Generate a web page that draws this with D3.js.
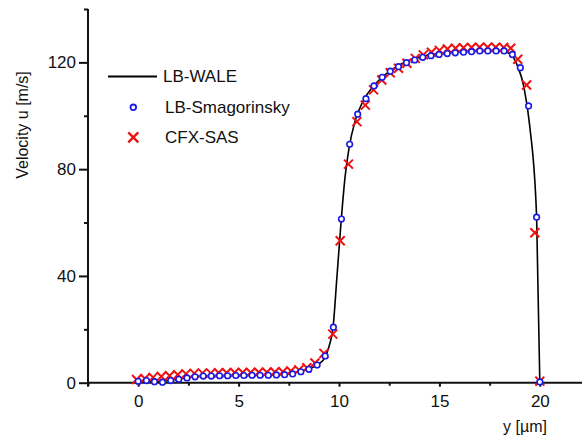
<!DOCTYPE html>
<html>
<head>
<meta charset="utf-8">
<script src="https://cdn.jsdelivr.net/npm/d3@7"></script>
<style>
    body { margin: 0; background: #fff; }
    svg text { font-family: Arial, "Liberation Sans", Helvetica, sans-serif; fill: #111; }
</style>
</head>
<body>
<svg id="chart"></svg>
<script>
// LB-WALE (solid line)
const waleY = [0, 0.5, 1, 1.5, 2, 3, 4, 5, 6, 7, 7.5, 8, 8.5, 9, 9.3, 9.5, 9.7, 9.9, 10.1, 10.3, 10.5, 10.8, 11.2, 11.7, 12.2, 13, 14, 15, 16, 17, 18, 18.5, 18.9, 19.2, 19.5, 19.84, 20.0];
const waleU = [0, 0.6, 0.4, 0.8, 1.3, 2.4, 2.6, 2.7, 2.8, 3.0, 3.3, 4.1, 5.2, 7.0, 9.5, 13.5, 20.5, 40, 60, 77, 88, 98, 105.5, 111, 114.8, 119, 122, 123.4, 124.1, 124.4, 124.4, 123.3, 118.5, 111, 96, 62, 0];

// LB-Smagorinsky (blue circles)
const smagY = [0, 0.41, 0.81, 1.21, 1.62, 2.02, 2.43, 2.83, 3.24, 3.64, 4.05, 4.45, 4.86, 5.26, 5.67, 6.07, 6.48, 6.88, 7.29, 7.69, 8.1, 8.5, 8.91, 9.31, 9.72, 10.12, 10.53, 10.93, 11.34, 11.74, 12.15, 12.55, 12.96, 13.36, 13.77, 14.17, 14.58, 14.98, 15.39, 15.79, 16.2, 16.6, 17.01, 17.41, 17.82, 18.22, 18.63, 19.03, 19.44, 19.84, 20.0];
const smagU = [0.5, 0.8, 0.4, 0.2, 0.8, 1.3, 1.8, 2.2, 2.5, 2.5, 2.6, 2.6, 2.7, 2.7, 2.8, 2.8, 2.8, 2.9, 3.0, 3.3, 4.1, 5.0, 6.6, 10.0, 20.8, 61.3, 89.3, 100.6, 106.4, 111.2, 114.4, 116.7, 118.4, 119.9, 120.9, 121.9, 122.5, 123.0, 123.3, 123.6, 123.8, 124.0, 124.3, 124.3, 124.3, 124.3, 123.0, 118.0, 103.7, 62.0, 0.3];

// CFX-SAS (red crosses)
const sasY = [-0.08, 0.33, 0.74, 1.15, 1.56, 1.97, 2.38, 2.79, 3.2, 3.61, 4.0, 4.4, 4.8, 5.2, 5.6, 6.0, 6.4, 6.8, 7.2, 7.6, 8.0, 8.4, 8.8, 9.25, 9.69, 10.06, 10.47, 10.89, 11.31, 11.72, 12.13, 12.55, 12.96, 13.38, 13.8, 14.2, 14.6, 15.0, 15.4, 15.8, 16.2, 16.6, 17.0, 17.4, 17.8, 18.2, 18.55, 18.9, 19.34, 19.75, 20.0];
const sasU = [1.2, 1.6, 2.0, 2.3, 2.6, 3.0, 3.3, 3.5, 3.6, 3.6, 3.7, 3.7, 3.8, 3.8, 3.8, 3.9, 3.9, 4.0, 4.1, 4.4, 4.8, 5.6, 7.4, 11.0, 18.2, 53.2, 81.9, 97.8, 104.0, 109.7, 113.4, 116.1, 117.8, 119.7, 121.5, 122.8, 123.8, 124.5, 125.0, 125.3, 125.5, 125.6, 125.7, 125.7, 125.7, 125.6, 125.3, 121.2, 111.5, 56.2, 0.6];

const xMajorTicks = [0, 5, 10, 15, 20];
const xMinorTicks = [-2.5, 2.5, 7.5, 12.5, 17.5];
const yMajorTicks = [0, 40, 80, 120];
const yMinorTicks = [20, 60, 100, 140];
const legendLabels = ["LB-WALE", "LB-Smagorinsky", "CFX-SAS"];

const width = 582, height = 442;
const svg = d3.select("#chart").attr("width", width).attr("height", height);

const x = d3.scaleLinear().domain([-2.5, 22.1]).range([88, 582]);
const y = d3.scaleLinear().domain([0, 140]).range([382.7, 9]);

const zip = (a, b) => a.map((v, i) => [v, b[i]]);

// axes
const xAxis = svg.append("g")
    .attr("transform", `translate(0, ${y(0)})`)
    .call(d3.axisBottom(x).tickValues(xMajorTicks).tickSize(4).tickPadding(8).tickFormat(d3.format("d")));
svg.append("g")
    .attr("transform", `translate(0, ${y(0)})`)
    .call(d3.axisBottom(x).tickValues(xMinorTicks).tickSize(3).tickFormat(""));

const yAxis = svg.append("g")
    .attr("transform", `translate(${x(-2.5)}, 0)`)
    .call(d3.axisLeft(y).tickValues(yMajorTicks).tickSize(9).tickPadding(3).tickFormat(d3.format("d")));
svg.append("g")
    .attr("transform", `translate(${x(-2.5)}, 0)`)
    .call(d3.axisLeft(y).tickValues(yMinorTicks).tickSize(4).tickFormat(""));

svg.selectAll(".domain").attr("stroke", "#111").attr("stroke-width", 2).attr("d", function () {
    return d3.select(this).attr("d");
});
svg.selectAll(".tick line").attr("stroke", "#111").attr("stroke-width", 2);
svg.selectAll(".tick text").attr("font-size", 17).attr("fill", "#111");

// make axes meet cleanly: plain domain lines
svg.selectAll(".domain").remove();
svg.append("line")
    .attr("x1", x(-2.5)).attr("x2", width)
    .attr("y1", y(0)).attr("y2", y(0))
    .attr("stroke", "#111").attr("stroke-width", 2);
svg.append("line")
    .attr("x1", x(-2.5)).attr("x2", x(-2.5))
    .attr("y1", y(140)).attr("y2", y(0) + 4)
    .attr("stroke", "#111").attr("stroke-width", 2);

// axis titles
svg.append("text")
    .attr("transform", `translate(22, 125) rotate(-90)`)
    .attr("text-anchor", "middle")
    .attr("dy", "0.35em")
    .attr("font-size", 16)
    .text("Velocity u [m/s]");

svg.append("text")
    .attr("x", 547).attr("y", 432)
    .attr("text-anchor", "end")
    .attr("font-size", 16)
    .text("y [µm]");

// series
const line = d3.line()
    .x(d => x(d[0]))
    .y(d => y(d[1]))
    .curve(d3.curveMonotoneX);

svg.append("path")
    .datum(zip(waleY, waleU))
    .attr("fill", "none")
    .attr("stroke", "#000")
    .attr("stroke-width", 1.6)
    .attr("d", line);

const crossPath = (cx, cy, s) => `M${cx - s},${cy - s}L${cx + s},${cy + s}M${cx - s},${cy + s}L${cx + s},${cy - s}`;

svg.append("g").selectAll("path")
    .data(zip(sasY, sasU))
    .join("path")
    .attr("d", d => crossPath(x(d[0]), y(d[1]), 4.5))
    .attr("stroke", "#ee1111")
    .attr("stroke-width", 2)
    .attr("fill", "none");

svg.append("g").selectAll("circle")
    .data(zip(smagY, smagU))
    .join("circle")
    .attr("cx", d => x(d[0]))
    .attr("cy", d => y(d[1]))
    .attr("r", 2.8)
    .attr("fill", "#fff")
    .attr("stroke", "#1a1ae6")
    .attr("stroke-width", 1.6);

// legend
const legend = svg.append("g");
legend.append("line")
    .attr("x1", 108).attr("x2", 157).attr("y1", 76.5).attr("y2", 76.5)
    .attr("stroke", "#000").attr("stroke-width", 1.8);
legend.append("circle")
    .attr("cx", 133.3).attr("cy", 107.3).attr("r", 2.8)
    .attr("fill", "#fff").attr("stroke", "#1a1ae6").attr("stroke-width", 1.8);
legend.append("path")
    .attr("d", crossPath(133.3, 137.3, 5))
    .attr("stroke", "#ee1111").attr("stroke-width", 2.4).attr("fill", "none");

legend.selectAll("text")
    .data(legendLabels)
    .join("text")
    .attr("x", (d, i) => i === 0 ? 163 : 165)
    .attr("y", (d, i) => 76.5 + i * 30.4)
    .attr("dy", "0.35em")
    .attr("font-size", 17)
    .text(d => d);
</script>
</body>
</html>
